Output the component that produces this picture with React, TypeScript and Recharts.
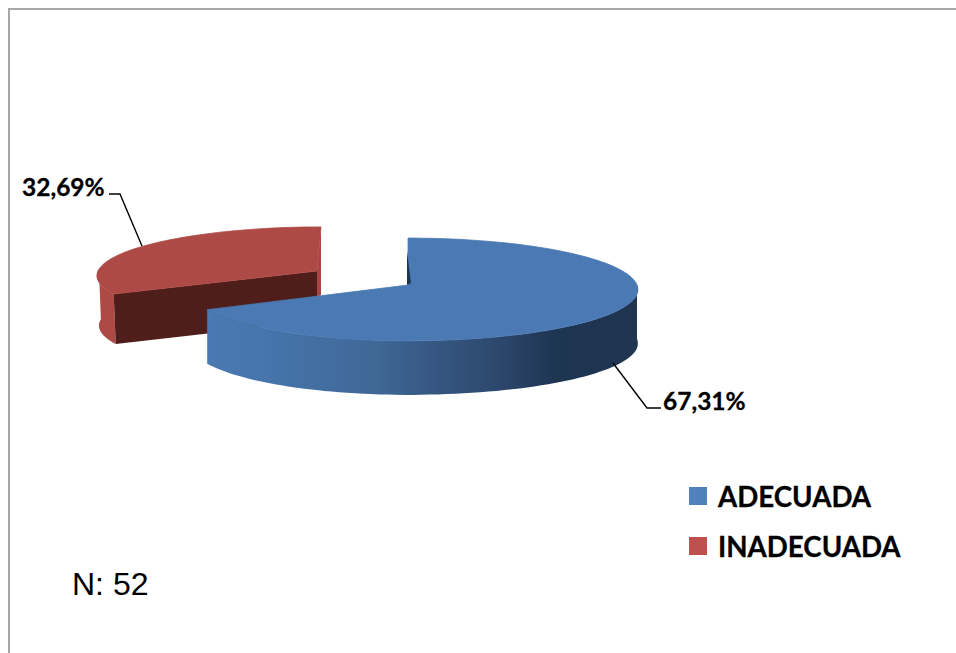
import { PieChart, Pie, Legend } from "recharts"

const categories = ["ADECUADA", "INADECUADA"]
const shares = [67.31, 32.69]
const legendColors = ["#4f81bd", "#c0504d"]

const chartData = categories.map((name, i) => ({ name, value: shares[i] }))

const WIDTH = 956
const HEIGHT = 653

// the fake 3D look: each slice has its own perspective settings
const looks = [
  { ry: 51, k: 0.087, leftScale: 0.95, skew: 0, depth: 54, depthDx: 0, top: "#4a79b3", inner: "#1e3552", outer: "url(#blueWall)" },
  { ry: 47.6, k: 0.08, leftScale: 1, skew: -4, depth: 50, depthDx: 2, top: "#ae4a46", inner: "#4f1e1b", outer: "#ae4a46" },
]

function project(cx: number, cy: number, r: number, angle: number, look: (typeof looks)[number], down = 0) {
  const rad = (angle * Math.PI) / 180
  const u = Math.cos(rad)
  const v = -Math.sin(rad)
  const w = 1 - look.k * v
  const sx = u < 0 ? look.leftScale : 1
  return [cx + (r * sx * u) / w + look.skew * v + (down ? look.depthDx : 0), cy + (look.ry * v) / w + down]
}

function arcPoints(cx: number, cy: number, r: number, from: number, to: number, look: (typeof looks)[number], down = 0) {
  const steps = Math.max(2, Math.ceil(Math.abs(to - from) / 2))
  const pts: number[][] = []
  for (let i = 0; i <= steps; i++) {
    pts.push(project(cx, cy, r, from + ((to - from) * i) / steps, look, down))
  }
  return pts
}

const toPath = (pts: number[][]) => "M" + pts.map((p) => `${p[0].toFixed(1)} ${p[1].toFixed(1)}`).join("L") + "Z"

function SliceShape(props: any, wanted: number) {
  const { cx, cy, outerRadius, startAngle, endAngle, index } = props
  if (index !== wanted) return <g />
  const look = looks[index]
  const arc = arcPoints(cx, cy, outerRadius, startAngle, endAngle, look)

  if (index === 0) {
    // outer wall runs from the right edge of the ellipse round the front to the slice end
    const wallTop = arcPoints(cx, cy, outerRadius, 0, endAngle, look)
    const wallBottom = arcPoints(cx, cy, outerRadius, 0, endAngle, look, look.depth).reverse()
    return (
      <g>
        <defs>
          <linearGradient id="blueWall" gradientUnits="userSpaceOnUse" x1="206" x2="637" y1="0" y2="0">
            <stop offset="0" stopColor="#4a79b3" />
            <stop offset="0.14" stopColor="#4674ab" />
            <stop offset="0.4" stopColor="#3f6896" />
            <stop offset="0.5" stopColor="#385a86" />
            <stop offset="0.7" stopColor="#2b4569" />
            <stop offset="0.81" stopColor="#1e3552" />
            <stop offset="1" stopColor="#1f3550" />
          </linearGradient>
        </defs>
        <path d={toPath([...wallTop, ...wallBottom])} fill={look.outer} />
        <path d={toPath([[cx, cy], ...arc])} fill={look.top} stroke={look.top} strokeWidth={0.8} />
        <path d={`M${cx - 1} ${cy - 34}L${cx - 1} ${cy}L${cx + 3} ${cy - 2}Z`} fill={look.inner} />
      </g>
    )
  }

  const wallTop = arcPoints(cx, cy, outerRadius, startAngle, -182, look)
  const wallBottom = arcPoints(cx, cy, outerRadius, startAngle, -182, look, look.depth).reverse()
  const end = arc[0]
  const endDown = project(cx, cy, outerRadius, startAngle, look, look.depth)
  const far = arc[arc.length - 1]
  return (
    <g>
      <path d={toPath([...wallTop, ...wallBottom])} fill={look.outer} />
      <path d={toPath([[far[0], far[1]], [far[0], cy + 24], [cx, cy + 26], [cx, cy]])} fill="#a84643" />
      <path d={toPath([[cx, cy], end, endDown, [cx, cy + look.depth]])} fill={look.inner} />
      <path d={toPath([[cx, cy], ...arc])} fill={look.top} stroke={look.top} strokeWidth={0.8} />
    </g>
  )
}

const formatShare = (v: number) => v.toFixed(2).replace(".", ",") + "%"

const labelStyle = { fontFamily: "Lato", fontWeight: 700, fontSize: 24.5, fill: "#000", stroke: "#000", strokeWidth: 0.3 }

function SliceLabel(props: any, wanted: number) {
  if (props.index !== wanted) return <g />
  const text = formatShare(shares[wanted])
  if (wanted === 0) {
    return (
      <g>
        <polyline points="613,363 647,408 661,408" fill="none" stroke="#000" strokeWidth={1.4} />
        <text x={663} y={410} style={labelStyle}>{text}</text>
      </g>
    )
  }
  return (
    <g>
      <polyline points="109,194 120,194 142,246" fill="none" stroke="#000" strokeWidth={1.4} />
      <text x={22} y={196} style={labelStyle}>{text}</text>
    </g>
  )
}

function LegendBox() {
  return (
    <div style={{ fontFamily: "Lato", fontWeight: 700, fontSize: 27.7, color: "#000", WebkitTextStroke: "0.3px #000" }}>
      {categories.map((name, i) => (
        <div key={name} style={{ display: "flex", alignItems: "center", height: 50 }}>
          <span style={{ width: 18, height: 18, background: legendColors[i], marginRight: 11 }} />
          {name}
        </div>
      ))}
    </div>
  )
}

export default function App() {
  return (
    <div style={{ position: "absolute", left: 0, top: 0, width: WIDTH, height: HEIGHT, background: "#fff", overflow: "hidden" }}>
      <div style={{ position: "absolute", left: 8, top: 8, right: 0, bottom: 0, borderLeft: "2px solid #a6a6a6", borderTop: "2px solid #a6a6a6" }} />
      <PieChart width={WIDTH} height={HEIGHT} margin={{ top: 0, right: 0, bottom: 0, left: 0 }}>
        <Pie
          data={chartData}
          dataKey="value"
          nameKey="name"
          cx={317}
          cy={271}
          outerRadius={219}
          startAngle={90}
          endAngle={-270}
          stroke="none"
          isAnimationActive={false}
          shape={(p: any) => SliceShape(p, 1)}
          label={(p: any) => SliceLabel(p, 1)}
          labelLine={false}
        />
        <Pie
          data={chartData}
          dataKey="value"
          nameKey="name"
          cx={408}
          cy={285}
          outerRadius={229}
          startAngle={90}
          endAngle={-270}
          stroke="none"
          isAnimationActive={false}
          shape={(p: any) => SliceShape(p, 0)}
          label={(p: any) => SliceLabel(p, 0)}
          labelLine={false}
        />
        <Legend content={() => <LegendBox />} wrapperStyle={{ position: "absolute", left: 689, top: 471, width: 260, bottom: "auto" }} />
      </PieChart>
      <div style={{ position: "absolute", left: 72, top: 566, fontFamily: "Liberation Sans", fontSize: 32, color: "#000" }}>N: 52</div>
    </div>
  )
}
